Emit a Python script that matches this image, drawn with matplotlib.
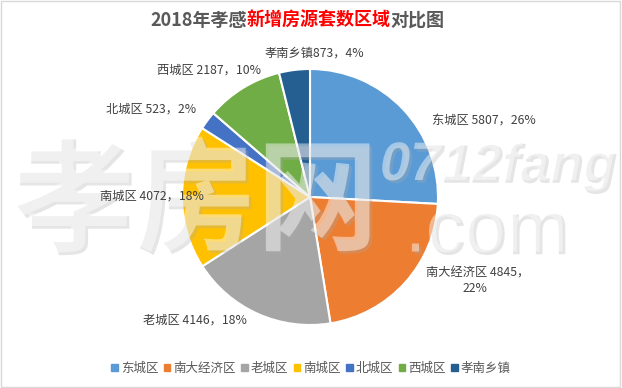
import matplotlib
matplotlib.use('Agg')
import matplotlib.pyplot as plt
import matplotlib.patheffects as pe
from matplotlib.patches import Patch

plt.rcParams['font.family'] = ['Noto Sans CJK SC', 'DejaVu Sans']

# data
regions = ['东城区', '南大经济区', '老城区', '南城区', '北城区', '西城区', '孝南乡镇']
counts = [5807, 4845, 4146, 4072, 523, 2187, 873]
percents = ['26%', '22%', '18%', '18%', '2%', '10%', '4%']
colors = ['#5B9BD5', '#ED7D31', '#A5A5A5', '#FFC000', '#4472C4', '#70AD47', '#255E91']

W, H = 622, 388
fig = plt.figure(figsize=(W / 100, H / 100), dpi=100)
fig.patch.set_facecolor('white')

# pie, placed in pixel terms
cx, cy, r = 310, 197, 128
ax = fig.add_axes([(cx - r) / W, (H - cy - r) / H, 2 * r / W, 2 * r / H])
ax.set_zorder(0)
wedges, _ = ax.pie(counts, colors=colors, startangle=90, counterclock=False,
                   wedgeprops=dict(edgecolor='white', linewidth=1.5))
ax.set_xlim(-1, 1)
ax.set_ylim(-1, 1)
ax.set_aspect('equal')
ax.axis('off')

def px(x, y):
    return x / W, 1 - y / H

# watermark (under the labels)
shadow = [pe.withSimplePatchShadow(offset=(2, -2), shadow_rgbFace='#aaaaaa', alpha=0.3)]
wm = dict(color='white', alpha=0.45, ha='left', va='center', zorder=2, path_effects=shadow)
fig.text(*px(12, 205), '孝房网', fontsize=88, fontweight='bold', **wm)
fig.text(*px(380, 166), '0712fang', fontsize=39, fontweight='bold', style='italic',
         family='Liberation Sans', **wm)
fig.text(*px(405, 232), '.com', fontsize=54, family='Liberation Sans', **wm)

# data labels (pixel positions of each label, left edge / vertical centre)
label_pos = [(432, 121), (426, 273), (143, 320), (100, 196), (106, 109), (157, 70), (265, 53)]
lab = dict(fontsize=8.8, color='#404040', va='center', zorder=5)
for i, (x, y) in enumerate(label_pos):
    name = regions[i]
    sep = '' if name == '孝南乡镇' else ' '
    if name == '南大经济区':
        fig.text(*px(x, y), f'{name} {counts[i]}，', ha='left', **lab)
        fig.text(*px(475, y + 16), percents[i], ha='center', **lab)
    else:
        fig.text(*px(x, y), f'{name}{sep}{counts[i]}，{percents[i]}', ha='left', **lab)

# title, multi-coloured
parts = [('2018年孝感', '#595959'), ('新增房源套数区域', '#FF0000'), ('对比图', '#595959')]
fig.canvas.draw()
renderer = fig.canvas.get_renderer()
x0 = 150
for s, c in parts:
    t = fig.text(*px(x0, 20), s, fontsize=13, fontweight='bold', color=c,
                 ha='left', va='center', zorder=5)
    x0 += t.get_window_extent(renderer).width

# legend
handles = [Patch(facecolor=c, edgecolor=c) for c in colors]
fig.legend(handles, regions, loc='center', bbox_to_anchor=(0.5, 1 - 368 / H), ncol=7,
           frameon=False, fontsize=9, handlelength=0.5, handleheight=0.5,
           handletextpad=0.25, columnspacing=0.45, labelcolor='#595959')

# outer border
fig.add_artist(plt.Rectangle((0.002, 0.003), 0.995, 0.994, transform=fig.transFigure,
                             fill=False, edgecolor='#D9D9D9', linewidth=1))

fig.savefig('out.png', dpi=100)
